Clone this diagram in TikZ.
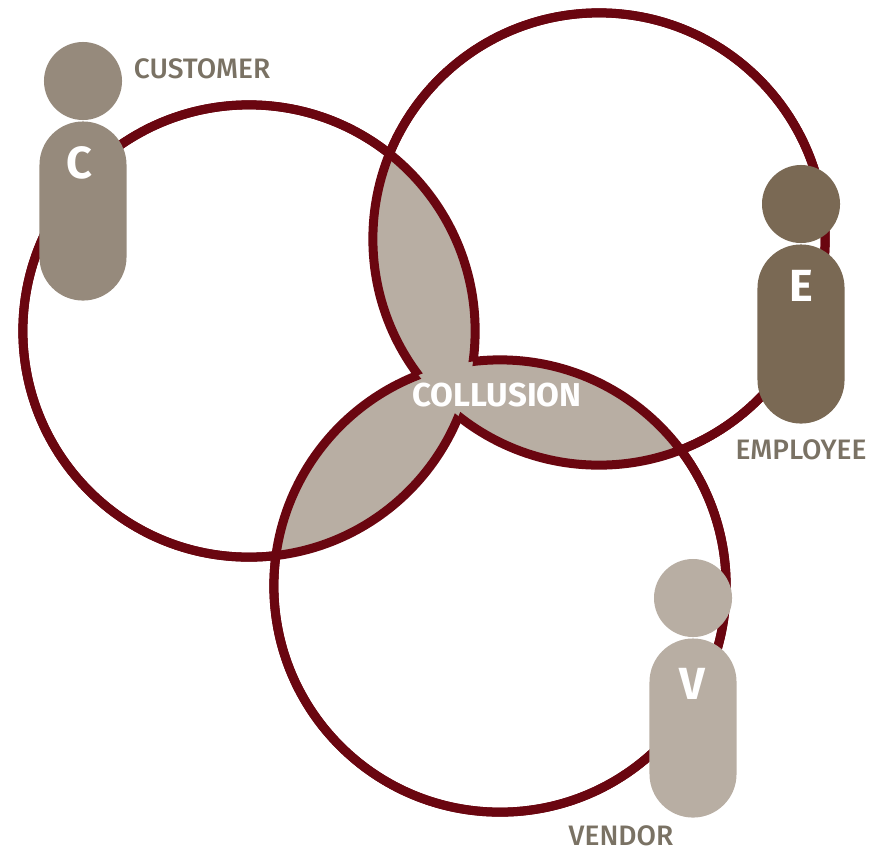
\documentclass[tikz,border=0pt]{standalone}
\usepackage{fontspec}
\setmainfont{Fira Sans}
\newfontfamily\labelFont{Fira Sans Medium}
\usepackage{tikz}
\usetikzlibrary{positioning}
\definecolor{ringColor}{RGB}{106,6,16}
\definecolor{lensColor}{RGB}{184,174,163}
\definecolor{customerColor}{RGB}{150,138,124}
\definecolor{employeeColor}{RGB}{122,105,84}
\definecolor{vendorColor}{RGB}{184,174,163}
\definecolor{labelColor}{RGB}{122,114,100}
\tikzstyle{venn} = [x = .01cm, y = -.01cm]
\tikzstyle{ringLine} = [color=ringColor, line width=.09cm]
\tikzstyle{personHead} = [circle, minimum size=.78cm, inner sep=0pt]
\tikzstyle{personBody} = [rectangle, minimum width=.87cm, minimum height=1.79cm, rounded corners=.435cm, inner sep=0pt]
\tikzstyle{personLetter} = [text=white, font=\fontsize{12.8}{12.8}\selectfont\bfseries, inner sep=0pt]
\tikzstyle{personLabel} = [text=labelColor, font=\labelFont\fontsize{8}{8}\selectfont, inner sep=0pt]
\newcommand{\ringRadius}{2.26cm}
% the part of one circle that lies in another
\newcommand{\lens}[2]{
  \begin{scope}
    \clip (#1) circle [radius=\ringRadius];
    \fill [lensColor] (#2) circle [radius=\ringRadius];
  \end{scope}
}
% one circle, left out where it runs inside another
\newcommand{\ringOutside}[2]{
  \begin{scope}[even odd rule]
    \clip (0,0) rectangle (880,848) (#2) circle [radius=\ringRadius];
    \draw [ringLine] (#1) circle [radius=\ringRadius];
  \end{scope}
}
\newcommand{\person}[5]{
  \node (#1Head) [personHead, fill=#1Color] at (#2,#3) {};
  \node (#1Body) [personBody, fill=#1Color] at (#2,#3 + 130) {};
  \node (#1Letter) [personLetter] at (#4) {#5};
}
\begin{document}
\begin{tikzpicture}[venn]
  \useasboundingbox (0,0) rectangle (880,848);
  \coordinate (customerCentre) at (249,331);
  \coordinate (employeeCentre) at (599,239);
  \coordinate (vendorCentre) at (500,586);

  \lens{customerCentre}{employeeCentre}
  \lens{employeeCentre}{vendorCentre}
  \lens{vendorCentre}{customerCentre}

  \ringOutside{customerCentre}{employeeCentre}
  \ringOutside{customerCentre}{vendorCentre}
  \ringOutside{employeeCentre}{customerCentre}
  \ringOutside{employeeCentre}{vendorCentre}
  \ringOutside{vendorCentre}{customerCentre}
  \ringOutside{vendorCentre}{employeeCentre}

  \person{customer}{83}{81}{79,163}{C}
  \person{employee}{801}{204}{801,286}{E}
  \person{vendor}{693}{598}{692,684}{V}

  \node (customerLabel) [personLabel] at (202,69) {CUSTOMER};
  \node (employeeLabel) [personLabel] at (801,450) {EMPLOYEE};
  \node (vendorLabel) [personLabel] at (621,836) {VENDOR};
  \node (collusionLabel) [personLabel, text=white, font=\fontsize{9.4}{9.4}\selectfont\bfseries] at (497,395) {COLLUSION};
\end{tikzpicture}
\end{document}
